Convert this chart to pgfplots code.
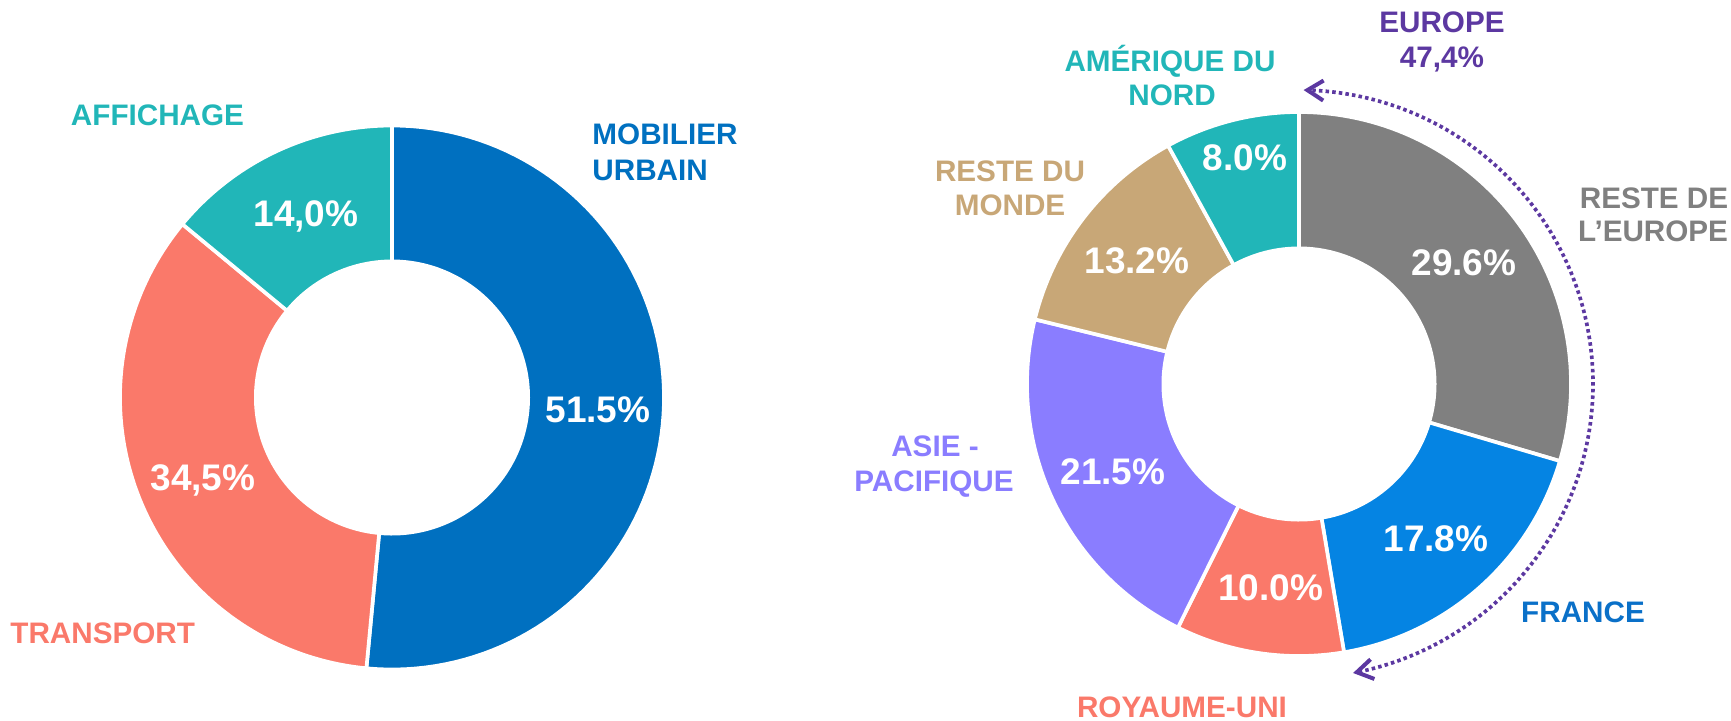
\documentclass[border=0pt]{standalone}
\usepackage{fontspec}
\setmainfont{Liberation Sans}
\usepackage{pgfplots}
\usepackage{pgfplotstable}
\pgfplotsset{compat=1.18}
\usetikzlibrary{arrows.meta}

\definecolor{cMob}{HTML}{0070C0}
\definecolor{cTra}{HTML}{FA796A}
\definecolor{cAff}{HTML}{21B6B8}
\definecolor{cGray}{HTML}{808080}
\definecolor{cFra}{HTML}{0584E3}
\definecolor{cAsie}{HTML}{8A7DFF}
\definecolor{cTan}{HTML}{C8A777}
\definecolor{cEur}{HTML}{5C38A1}
\definecolor{cFraLab}{HTML}{0A70C8}

\pgfplotstableread{
label value color
MobilierUrbain 51.5 cMob
Transport 34.5 cTra
Affichage 14.0 cAff
}\leftdata

\pgfplotstableread{
label value color
ResteEurope 29.6 cGray
France 17.8 cFra
RoyaumeUni 10.0 cTra
AsiePacifique 21.5 cAsie
ResteMonde 13.2 cTan
AmeriqueNord 8.0 cAff
}\rightdata

% #1 table, #2 cx, #3 cy, #4 outer R, #5 inner r
\newcommand{\donut}[5]{%
  \pgfplotstablegetrowsof{#1}%
  \pgfmathtruncatemacro{\nlast}{\pgfplotsretval-1}%
  \def\tot{0}%
  \pgfplotsforeachungrouped \i in {0,...,\nlast}{%
    \pgfplotstablegetelem{\i}{value}\of{#1}%
    \pgfmathsetmacro{\tot}{\tot+\pgfplotsretval}%
  }%
  \def\cum{0}%
  \pgfplotsforeachungrouped \i in {0,...,\nlast}{%
    \pgfplotstablegetelem{\i}{value}\of{#1}\let\val\pgfplotsretval
    \pgfplotstablegetelem{\i}{color}\of{#1}\let\col\pgfplotsretval
    \pgfmathsetmacro{\angA}{90-360*(\cum/\tot)}%
    \pgfmathsetmacro{\cum}{\cum+\val}%
    \pgfmathsetmacro{\angB}{90-360*(\cum/\tot)}%
    \edef\tmp{\noexpand\addplot[fill=\col, draw=white, line width=1.1pt, line join=round, domain=\angB:\angA, samples=90] ({#2+#4*cos(x)},{#3+#4*sin(x)}) -- (axis cs:#2,#3) -- cycle;}%
    \tmp
  }%
  \addplot[fill=white, draw=none, domain=0:360, samples=180] ({#2+#5*cos(x)},{#3+#5*sin(x)}) -- cycle;
}

\newcommand{\lab}{\bfseries\fontsize{8.9}{10}\selectfont}
\newcommand{\pct}{\bfseries\fontsize{11.1}{12}\selectfont}

\begin{document}
\begin{tikzpicture}
\begin{axis}[
  x=0.3pt, y=0.3pt,
  xmin=0, xmax=1731, ymin=0, ymax=720,
  hide axis, clip=false,
  every node/.style={inner sep=0pt, outer sep=0pt},
]

\donut{\leftdata}{392}{322.5}{272}{138}
\donut{\rightdata}{1299}{336}{272}{137.5}

% Europe arc
\addplot[draw=cEur, line width=1.1pt, dash pattern=on 1.05pt off 0.95pt,
  domain=-79.4:89.1, samples=150,
  {Straight Barb[length=4.8pt, width=6pt, line width=1.2pt]}-{Straight Barb[length=4.8pt, width=6pt, line width=1.2pt]}]
  ({1299+294*cos(x)},{336+294*sin(x)});

% Left labels
\node[anchor=base, text=cAff, font=\lab] at (axis cs:157.5,594.3) {AFFICHAGE};
\node[anchor=base west, text=cMob, font=\lab] at (axis cs:580.7,576) {MOBILIER};
\node[anchor=base west, text=cMob, font=\lab] at (axis cs:580.7,540) {URBAIN};
\node[anchor=base, text=cTra, font=\lab] at (axis cs:102.7,76.7) {TRANSPORT};
\node[anchor=base, text=white, font=\pct] at (axis cs:306,493.3) {14,0\%};
\node[anchor=base, text=white, font=\pct] at (axis cs:598,298) {51.5\%};
\node[anchor=base, text=white, font=\pct] at (axis cs:203,230) {34,5\%};

% Right labels
\node[anchor=base, text=cEur, font=\lab] at (axis cs:1442,687.3) {EUROPE};
\node[anchor=base, text=cEur, font=\lab] at (axis cs:1442,652.3) {47,4\%};
\node[anchor=base, text=cAff, font=\lab] at (axis cs:1170,649) {AMÉRIQUE DU};
\node[anchor=base, text=cAff, font=\lab] at (axis cs:1172,614.3) {NORD};
\node[anchor=base, text=cTan, font=\lab] at (axis cs:1010,538.3) {RESTE DU};
\node[anchor=base, text=cTan, font=\lab] at (axis cs:1010,505) {MONDE};
\node[anchor=base, text=cGray, font=\lab] at (axis cs:1654,511.7) {RESTE DE};
\node[anchor=base, text=cGray, font=\lab] at (axis cs:1653,478.3) {L’EUROPE};
\node[anchor=base, text=cAsie, font=\lab] at (axis cs:935,264) {ASIE -};
\node[anchor=base, text=cAsie, font=\lab] at (axis cs:934,229) {PACIFIQUE};
\node[anchor=base, text=cFraLab, font=\lab] at (axis cs:1583,98) {FRANCE};
\node[anchor=base, text=cTra, font=\lab] at (axis cs:1182,2.5) {ROYAUME-UNI};

\node[anchor=base, text=white, font=\pct] at (axis cs:1245,549.3) {8.0\%};
\node[anchor=base, text=white, font=\pct] at (axis cs:1464,445) {29.6\%};
\node[anchor=base, text=white, font=\pct] at (axis cs:1137,447) {13.2\%};
\node[anchor=base, text=white, font=\pct] at (axis cs:1113,236) {21.5\%};
\node[anchor=base, text=white, font=\pct] at (axis cs:1436,168.3) {17.8\%};
\node[anchor=base, text=white, font=\pct] at (axis cs:1270.5,119.3) {10.0\%};
\end{axis}
\pgfresetboundingbox
\path[use as bounding box] (current axis.south west) rectangle (current axis.north east);
\end{tikzpicture}
\end{document}
